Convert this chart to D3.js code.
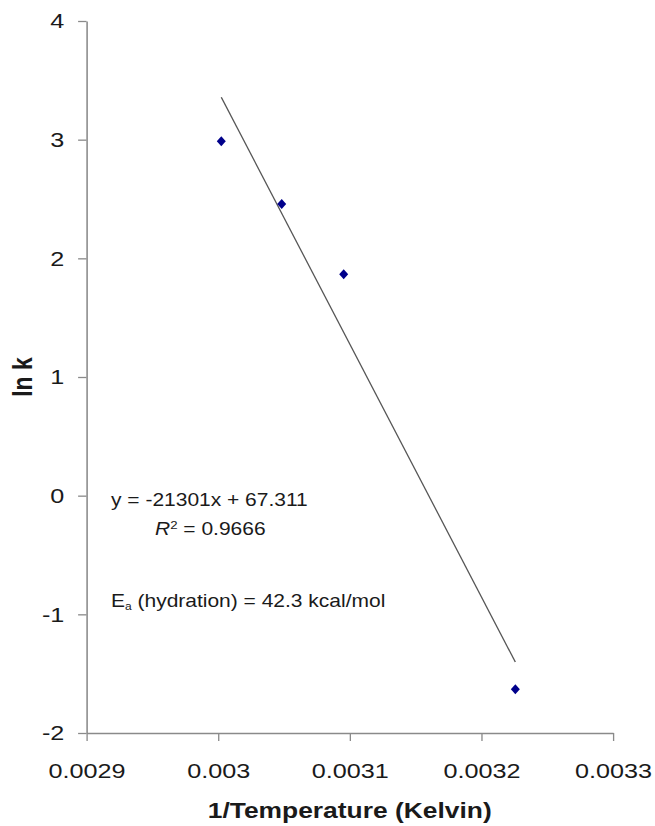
<!DOCTYPE html>
<html>
<head>
<meta charset="utf-8">
<script src="https://cdn.jsdelivr.net/npm/d3@7"></script>
<style>
  html, body { margin: 0; padding: 0; background: #fff; }
  svg { display: block; }
  text { font-family: Arial, "Liberation Sans", sans-serif; fill: #1a1a1a; }
</style>
</head>
<body>
<svg id="chart"></svg>
<script>
// data
var invTemp = [0.0030024, 0.0030483, 0.0030954, 0.0032258];
var lnK = [2.986, 2.458, 1.865, -1.632];
var xTicks = [0.0029, 0.003, 0.0031, 0.0032, 0.0033];
var xTickLabels = ["0.0029", "0.003", "0.0031", "0.0032", "0.0033"];
var yTicks = [-2, -1, 0, 1, 2, 3, 4];
var trendSlope = -21301, trendIntercept = 67.311;

var W = 655, H = 826;
var sx = 1.2; // the original is stretched horizontally
var vbW = W / sx;

var svg = d3.select("#chart")
  .attr("width", W)
  .attr("height", H)
  .attr("viewBox", "0 0 " + vbW + " " + H)
  .attr("preserveAspectRatio", "none");

var xScale = d3.scaleLinear()
  .domain([0.0029, 0.0033])
  .range([86.5 / sx, 613 / sx]);

var yScale = d3.scaleLinear()
  .domain([-2, 4])
  .range([733, 21]);

var axisColor = "#8a8a8a";

// y axis
var gy = svg.append("g")
  .attr("transform", "translate(" + xScale(0.0029) + ",0)")
  .call(d3.axisLeft(yScale)
    .tickValues(yTicks)
    .tickFormat(d3.format("d"))
    .tickSizeInner(7)
    .tickSizeOuter(0)
    .tickPadding(11.5));
gy.select(".domain").attr("stroke", axisColor).attr("stroke-width", 1.3);
gy.selectAll(".tick line").attr("stroke", axisColor).attr("stroke-width", 1.3);
gy.selectAll(".tick text")
  .attr("font-size", 21)
  .attr("font-family", "Arial, 'Liberation Sans', sans-serif")
  .attr("fill", "#1a1a1a")
  .text(function (d) { return d < 0 ? "-" + Math.abs(d) : d; });

// x axis
var gx = svg.append("g")
  .attr("transform", "translate(0," + yScale(-2) + ")")
  .call(d3.axisBottom(xScale)
    .tickValues(xTicks)
    .tickFormat(function (d, i) { return xTickLabels[i]; })
    .tickSizeInner(8)
    .tickSizeOuter(0)
    .tickPadding(22));
gx.select(".domain").attr("stroke", axisColor).attr("stroke-width", 1.5);
gx.selectAll(".tick line").attr("stroke", axisColor).attr("stroke-width", 1.1);
gx.selectAll(".tick text")
  .attr("font-size", 21)
  .attr("font-family", "Arial, 'Liberation Sans', sans-serif")
  .attr("fill", "#1a1a1a");

// trend line
var xMin = d3.min(invTemp), xMax = d3.max(invTemp);
var trend = [xMin, xMax].map(function (x) { return [x, trendSlope * x + trendIntercept]; });
svg.append("path")
  .datum(trend)
  .attr("fill", "none")
  .attr("stroke", "#555")
  .attr("stroke-width", 1.1)
  .attr("d", d3.line()
    .x(function (d) { return xScale(d[0]); })
    .y(function (d) { return yScale(d[1]); }));

// diamond markers
var diamond = {
  draw: function (ctx, size) {
    var r = Math.sqrt(size / 2);
    ctx.moveTo(0, -r);
    ctx.lineTo(r, 0);
    ctx.lineTo(0, r);
    ctx.lineTo(-r, 0);
    ctx.closePath();
  }
};
svg.selectAll(".dot")
  .data(invTemp)
  .enter().append("path")
  .attr("class", "dot")
  .attr("d", d3.symbol().type(diamond).size(50))
  .attr("transform", function (d, i) {
    return "translate(" + xScale(d) + "," + yScale(lnK[i]) + ") scale(" + (0.9 / sx) + ",1)";
  })
  .attr("fill", "#00008b");

// axis titles
svg.append("text")
  .attr("x", (xScale(0.0029) + xScale(0.0033)) / 2)
  .attr("y", 818)
  .attr("text-anchor", "middle")
  .attr("font-size", 22)
  .attr("font-weight", "bold")
  .text("1/Temperature (Kelvin)");

svg.append("text")
  .attr("transform", "translate(" + (32 / sx) + "," + yScale(1) + ") rotate(-90)")
  .attr("text-anchor", "middle")
  .attr("font-size", 23)
  .attr("font-weight", "bold")
  .text("ln k");

// trendline label
svg.append("text")
  .attr("x", 111 / sx)
  .attr("y", 506)
  .attr("font-size", 17.5)
  .text("y = -21301x + 67.311");

var r2 = svg.append("text")
  .attr("x", 155 / sx)
  .attr("y", 535)
  .attr("font-size", 17.5);
r2.append("tspan").attr("font-style", "italic").text("R");
r2.append("tspan").attr("font-size", 11).attr("dy", -6).text("2");
r2.append("tspan").attr("dy", 6).text(" = 0.9666");

var ea = svg.append("text")
  .attr("x", 111 / sx)
  .attr("y", 607)
  .attr("font-size", 17.5);
ea.append("tspan").text("E");
ea.append("tspan").attr("font-size", 10).attr("dy", 3).text("a");
ea.append("tspan").attr("dy", -3).text(" (hydration) = 42.3 kcal/mol");
</script>
</body>
</html>
